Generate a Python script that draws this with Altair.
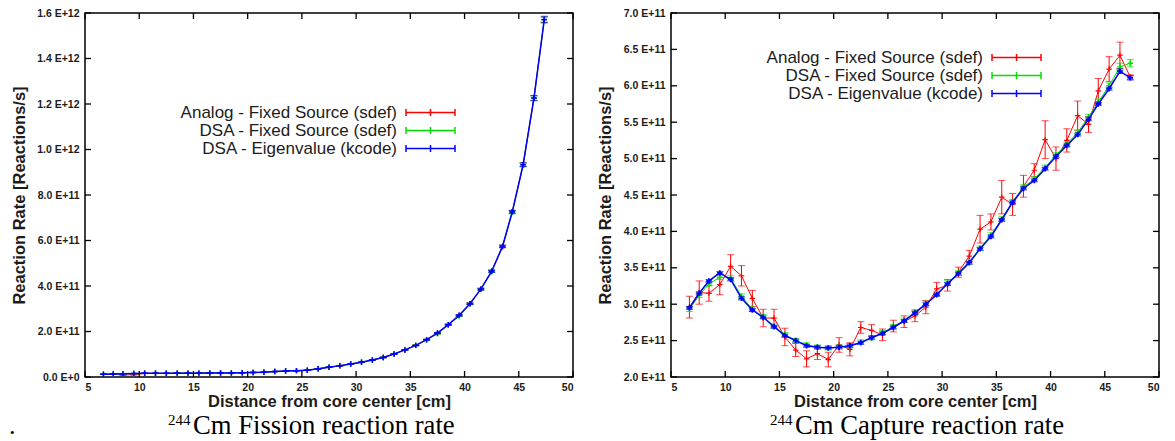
import altair as alt
import pandas as pd

# ---------------- data ----------------
X_CM = [6.7, 7.6, 8.5, 9.5, 10.5, 11.5, 12.5, 13.5, 14.5, 15.5, 16.5, 17.5, 18.5, 19.5,
        20.5, 21.5, 22.5, 23.5, 24.5, 25.5, 26.5, 27.5, 28.5, 29.5, 30.5, 31.5, 32.5, 33.5,
        34.5, 35.5, 36.5, 37.5, 38.5, 39.5, 40.5, 41.5, 42.5, 43.5, 44.4, 45.4, 46.4, 47.35]

# Fission reaction rate, units of 1E+12 reactions/s
FIS_KCODE = [0.012, 0.013, 0.014, 0.015, 0.016, 0.016, 0.016, 0.017, 0.017, 0.017, 0.018, 0.018,
             0.018, 0.019, 0.020, 0.021, 0.024, 0.026, 0.028, 0.030, 0.036, 0.043, 0.050, 0.057,
             0.065, 0.075, 0.086, 0.101, 0.119, 0.139, 0.164, 0.193, 0.230, 0.271, 0.322, 0.386,
             0.464, 0.574, 0.726, 0.933, 1.226, 1.571]
FIS_KCODE_ERR = [0.0002, 0.0002, 0.0002, 0.0002, 0.0002, 0.0002, 0.0002, 0.0002, 0.0002, 0.0002,
                 0.0002, 0.0002, 0.0002, 0.0002, 0.0002, 0.0002, 0.0003, 0.0003, 0.0003, 0.0003,
                 0.0004, 0.0004, 0.0005, 0.0006, 0.0007, 0.0008, 0.0009, 0.001, 0.001, 0.001,
                 0.002, 0.002, 0.002, 0.003, 0.003, 0.004, 0.004, 0.005, 0.006, 0.008, 0.010, 0.012]
FIS_DSA = [0.012, 0.013, 0.014, 0.015, 0.016, 0.016, 0.016, 0.017, 0.017, 0.017, 0.018, 0.018,
           0.018, 0.019, 0.020, 0.021, 0.024, 0.026, 0.028, 0.030, 0.036, 0.043, 0.050, 0.057,
           0.065, 0.075, 0.086, 0.101, 0.119, 0.139, 0.164, 0.190, 0.230, 0.268, 0.322, 0.386,
           0.464, 0.574, 0.723, 0.933, 1.226, 1.571]
FIS_DSA_ERR = [0.0002, 0.0002, 0.0002, 0.0002, 0.0002, 0.0002, 0.0002, 0.0002, 0.0002, 0.0002,
               0.0002, 0.0002, 0.0002, 0.0002, 0.0002, 0.0002, 0.0003, 0.0003, 0.0003, 0.0003,
               0.0004, 0.0004, 0.0005, 0.0006, 0.0007, 0.0008, 0.0009, 0.001, 0.001, 0.001,
               0.002, 0.002, 0.002, 0.003, 0.003, 0.004, 0.004, 0.005, 0.006, 0.008, 0.010, 0.012]
FIS_ANALOG = [0.012, 0.012, 0.009, 0.010, 0.016, 0.016, 0.016, 0.017, 0.017, 0.017, 0.018, 0.018,
              0.018, 0.019, 0.020, 0.021, 0.024, 0.026, 0.028, 0.030, 0.036, 0.043, 0.048, 0.057,
              0.065, 0.075, 0.086, 0.101, 0.119, 0.139, 0.164, 0.193, 0.230, 0.271, 0.322, 0.386,
              0.467, 0.574, 0.726, 0.933, 1.226, 1.571]
FIS_ANALOG_ERR = [0.001, 0.001, 0.001, 0.001, 0.001, 0.001, 0.001, 0.001, 0.001, 0.001, 0.001,
                  0.001, 0.001, 0.001, 0.001, 0.001, 0.001, 0.001, 0.001, 0.001, 0.001, 0.001,
                  0.001, 0.001, 0.001, 0.001, 0.002, 0.002, 0.002, 0.002, 0.002, 0.003, 0.003,
                  0.003, 0.004, 0.004, 0.005, 0.006, 0.007, 0.009, 0.012, 0.015]

# Capture reaction rate, units of 1E+11 reactions/s
CAP_KCODE = [2.95, 3.15, 3.32, 3.43, 3.34, 3.08, 2.92, 2.82, 2.69, 2.57, 2.50, 2.43, 2.41, 2.40,
             2.41, 2.43, 2.47, 2.54, 2.60, 2.68, 2.77, 2.88, 3.00, 3.13, 3.28, 3.42, 3.57, 3.76,
             3.93, 4.16, 4.40, 4.59, 4.70, 4.86, 5.03, 5.18, 5.33, 5.54, 5.75, 5.96, 6.20, 6.11]
CAP_KCODE_ERR = [0.02, 0.02, 0.02, 0.02, 0.02, 0.02, 0.02, 0.02, 0.02, 0.02, 0.02, 0.02, 0.02,
                 0.02, 0.02, 0.02, 0.02, 0.02, 0.02, 0.02, 0.02, 0.02, 0.02, 0.02, 0.02, 0.02,
                 0.02, 0.02, 0.02, 0.02, 0.02, 0.02, 0.02, 0.02, 0.02, 0.02, 0.02, 0.02, 0.02,
                 0.02, 0.03, 0.03]
CAP_DSA = [2.93, 3.12, 3.28, 3.37, 3.36, 3.11, 2.93, 2.83, 2.70, 2.58, 2.50, 2.44, 2.41, 2.40,
           2.41, 2.43, 2.48, 2.54, 2.61, 2.69, 2.78, 2.89, 3.01, 3.14, 3.29, 3.43, 3.58, 3.77,
           3.95, 4.17, 4.41, 4.61, 4.72, 4.88, 5.05, 5.20, 5.36, 5.57, 5.78, 6.00, 6.26, 6.31]
CAP_DSA_ERR = [0.03, 0.03, 0.03, 0.03, 0.03, 0.03, 0.03, 0.03, 0.03, 0.03, 0.03, 0.03, 0.03,
               0.03, 0.03, 0.03, 0.03, 0.03, 0.03, 0.03, 0.03, 0.03, 0.03, 0.03, 0.03, 0.03,
               0.03, 0.03, 0.03, 0.03, 0.03, 0.03, 0.03, 0.03, 0.03, 0.03, 0.03, 0.04, 0.04,
               0.04, 0.05, 0.05]
CAP_ANALOG = [2.96, 3.16, 3.15, 3.27, 3.52, 3.39, 3.08, 2.81, 2.81, 2.55, 2.37, 2.25, 2.32, 2.24,
              2.44, 2.38, 2.68, 2.64, 2.58, 2.70, 2.76, 2.84, 2.96, 3.21, 3.26, 3.44, 3.66, 4.03,
              4.13, 4.47, 4.37, 4.62, 4.84, 5.26, 5.00, 5.25, 5.59, 5.47, 5.93, 6.23, 6.42, 6.12]
CAP_ANALOG_ERR = [0.15, 0.16, 0.11, 0.14, 0.16, 0.14, 0.11, 0.12, 0.12, 0.12, 0.09, 0.11, 0.08,
                  0.10, 0.10, 0.09, 0.08, 0.08, 0.08, 0.08, 0.08, 0.08, 0.09, 0.09, 0.08, 0.07,
                  0.08, 0.19, 0.11, 0.23, 0.15, 0.15, 0.09, 0.26, 0.16, 0.16, 0.20, 0.11, 0.17,
                  0.17, 0.18, 0.03]

X_TICKS = [5, 10, 15, 20, 25, 30, 35, 40, 45, 50]
FIS_Y_TICKS = [0, 2e11, 4e11, 6e11, 8e11, 1.0e12, 1.2e12, 1.4e12, 1.6e12]
CAP_Y_TICKS = [2.0e11, 2.5e11, 3.0e11, 3.5e11, 4.0e11, 4.5e11, 5.0e11, 5.5e11, 6.0e11, 6.5e11, 7.0e11]

LEGEND_LABELS = ["Analog - Fixed Source (sdef)", "DSA - Fixed Source (sdef)", "DSA - Eigenvalue (kcode)"]
COLORS = ["#ff0000", "#00e000", "#0000ff"]

# ---------------- layout ----------------
W, H = 488, 364
PLUS = "M-1,0L1,0M0,-1L0,1"
SANS = "Liberation Sans"
SERIF = "Liberation Serif"
TXT = "#1c1c1c"
ONE = pd.DataFrame({"k": [0]})


def make_df(vals, errs, unit):
    return pd.DataFrame({
        "x": X_CM,
        "y": [v * unit for v in vals],
        "lo": [(v - e) * unit for v, e in zip(vals, errs)],
        "hi": [(v + e) * unit for v, e in zip(vals, errs)],
    })


def panel(series, unit, ydom, yticks, label_expr, legend_rows, cap_sup_x, cap_x, caption, dot=False,
          blue_pt_w=1.5):
    xs = alt.Scale(domain=[5, 50], nice=False, zero=False)
    ys = alt.Scale(domain=ydom, nice=False, zero=False)
    xaxis = alt.Axis(
        values=X_TICKS, tickSize=0, domain=False, grid=False, labelFont=SANS,
        labelFontWeight="bold", labelFontSize=10.5, labelColor=TXT, labelPadding=5,
        title="Distance from core center [cm]", titleFont=SANS, titleFontSize=16.5,
        titleFontWeight="bold", titleColor=TXT, titleX=W / 2, titleY=29.5,
        titleBaseline="alphabetic", titleAlign="center")
    yaxis = alt.Axis(
        values=yticks, labelExpr=label_expr, tickSize=0, domain=False, grid=False,
        labelFont=SANS, labelFontWeight="bold", labelFontSize=10.5, labelColor=TXT,
        labelPadding=6, title="Reaction Rate [Reactions/s]", titleFont=SANS,
        titleFontSize=16.5, titleFontWeight="bold", titleColor=TXT, titleAngle=270,
        titleX=-66, titleY=H / 2, titleBaseline="middle", titleAlign="center")

    def X(f):
        return alt.X(f, scale=xs, axis=xaxis)

    def Y(f):
        return alt.Y(f, scale=ys, axis=yaxis)

    layers = []
    for (vals, errs), color, lw, psw in zip(series, COLORS, [1.0, 1.0, 1.5], [1.2, 1.4, blue_pt_w]):
        df = make_df(vals, errs, unit)
        base = alt.Chart(df)
        layers.append(base.mark_rule(color=color, strokeWidth=1).encode(
            x=X("x:Q"), y=Y("lo:Q"), y2="hi:Q"))
        layers.append(base.mark_tick(color=color, orient="horizontal", size=7, thickness=1).encode(
            x=X("x:Q"), y=Y("lo:Q")))
        layers.append(base.mark_tick(color=color, orient="horizontal", size=7, thickness=1).encode(
            x=X("x:Q"), y=Y("hi:Q")))
        layers.append(base.mark_line(color=color, strokeWidth=lw).encode(
            x=X("x:Q"), y=Y("y:Q")))
        layers.append(base.mark_point(shape=PLUS, filled=False, color=color, size=30,
                                      strokeWidth=psw, opacity=1).encode(x=X("x:Q"), y=Y("y:Q")))

    # inward mirrored ticks on all four sides
    xt = pd.DataFrame({"t": X_TICKS})
    yt = pd.DataFrame({"t": yticks})
    tk = dict(color="black", strokeWidth=1.3)
    layers.append(alt.Chart(xt).mark_rule(**tk).encode(
        x=X("t:Q"), y=alt.value(H), y2=alt.value(H - 6)))
    layers.append(alt.Chart(xt).mark_rule(**tk).encode(
        x=X("t:Q"), y=alt.value(0), y2=alt.value(6)))
    layers.append(alt.Chart(yt).mark_rule(**tk).encode(
        y=Y("t:Q"), x=alt.value(0), x2=alt.value(6)))
    layers.append(alt.Chart(yt).mark_rule(**tk).encode(
        y=Y("t:Q"), x=alt.value(W), x2=alt.value(W - 6)))

    # gnuplot-style key
    x0, x1 = 321, 370
    for label, color, ly in zip(LEGEND_LABELS, COLORS, legend_rows):
        layers.append(alt.Chart(ONE).mark_text(text=label, align="right", baseline="middle",
                                               font=SANS, fontSize=17, color=TXT).encode(
            x=alt.value(312), y=alt.value(ly)))
        layers.append(alt.Chart(ONE).mark_rule(color=color, strokeWidth=1.5).encode(
            x=alt.value(x0), x2=alt.value(x1), y=alt.value(ly)))
        for cx in (x0, (x0 + x1) / 2, x1):
            layers.append(alt.Chart(ONE).mark_rule(color=color, strokeWidth=1.5).encode(
                x=alt.value(cx), y=alt.value(ly - 3.5), y2=alt.value(ly + 3.5)))

    # caption under the panel
    layers.append(alt.Chart(ONE).mark_text(text="244", align="left", baseline="alphabetic",
                                           font=SERIF, fontSize=15, color="black").encode(
        x=alt.value(cap_sup_x), y=alt.value(412)))
    layers.append(alt.Chart(ONE).mark_text(text=caption, align="left", baseline="alphabetic",
                                           font=SERIF, fontSize=26.7, color="black").encode(
        x=alt.value(cap_x), y=alt.value(421)))
    if dot:
        layers.append(alt.Chart(ONE).mark_text(text=".", align="left", baseline="alphabetic",
                                               font=SERIF, fontSize=26, color="black").encode(
            x=alt.value(-76), y=alt.value(421)))

    return alt.layer(*layers).properties(width=W, height=H)


fis_expr = ("datum.value >= 1e12 ? format(datum.value / 1e12, '.1f') + ' E+12' : "
            "datum.value == 0 ? '0.0 E+0' : format(datum.value / 1e11, '.1f') + ' E+11'")
cap_expr = "format(datum.value / 1e11, '.1f') + ' E+11'"

left = panel([(FIS_ANALOG, FIS_ANALOG_ERR), (FIS_DSA, FIS_DSA_ERR), (FIS_KCODE, FIS_KCODE_ERR)],
             1e12, [0, 1.6e12], FIS_Y_TICKS, fis_expr, [99.5, 117.5, 135.5],
             83, 108, "Cm Fission reaction rate", dot=True)
right = panel([(CAP_ANALOG, CAP_ANALOG_ERR), (CAP_DSA, CAP_DSA_ERR), (CAP_KCODE, CAP_KCODE_ERR)],
              1e11, [2e11, 7e11], CAP_Y_TICKS, cap_expr, [44.5, 62.5, 80.5],
              99, 124, "Cm Capture reaction rate", blue_pt_w=1.8)

chart = alt.hconcat(left, right, spacing=98, bounds="flush").properties(
    padding={"left": 8, "top": 7, "right": 0, "bottom": 0}, background="white"
).configure_view(stroke="black", strokeWidth=1.5)

chart.save("out.html", embed_options={"renderer": "svg", "actions": False})
